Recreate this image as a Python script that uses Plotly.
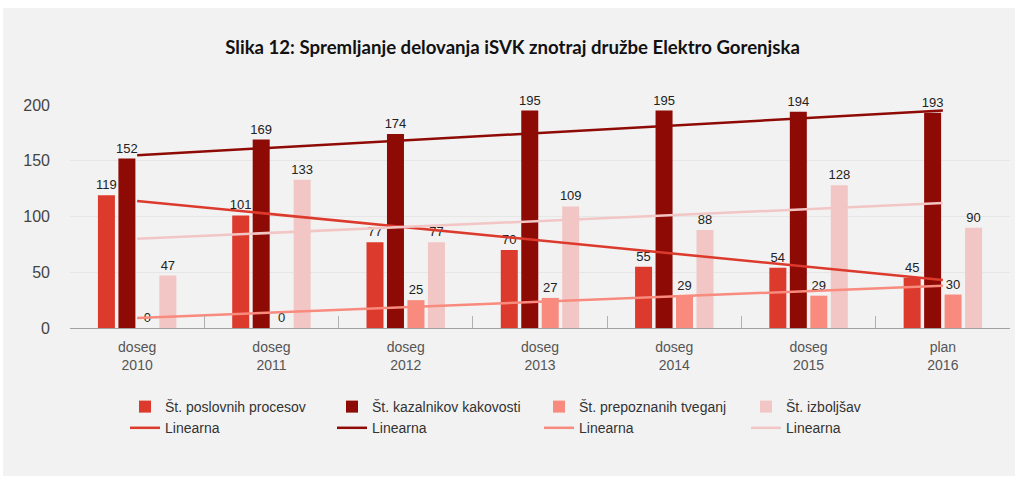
import plotly.graph_objects as go

categories = ["doseg<br>2010", "doseg<br>2011", "doseg<br>2012", "doseg<br>2013",
              "doseg<br>2014", "doseg<br>2015", "plan<br>2016"]
series_names = ["Št. poslovnih procesov", "Št. kazalnikov kakovosti",
                "Št. prepoznanih tveganj", "Št. izboljšav"]
poslovni_procesi = [119, 101, 77, 70, 55, 54, 45]
kazalniki_kakovosti = [152, 169, 174, 195, 195, 194, 193]
prepoznana_tveganja = [0, 0, 25, 27, 29, 29, 30]
izboljsave = [47, 133, 77, 109, 88, 128, 90]
# linear trend lines (Linearna), start/end values
trend_start = [114, 155, 9, 80]
trend_end = [43, 195, 38, 112]

colors = ["#dc3a2c", "#8e0b05", "#f98a7e", "#f2c6c4"]
values = [poslovni_procesi, kazalniki_kakovosti, prepoznana_tveganja, izboljsave]

W, H = 1019, 481
ml, mr, mt, mb = 70, 9, 105, 153

fig = go.Figure()
for name, vals, c in zip(series_names, values, colors):
    fig.add_trace(go.Bar(
        x=categories, y=vals, name=name, marker_color=c, marker_line_width=0,
        text=[str(v) for v in vals], textposition="outside", cliponaxis=False,
        constraintext="none",
        textfont=dict(family="Liberation Sans, Arial", size=13, color="#222222"),
        hoverinfo="skip",
    ))
for s, e, c in zip(trend_start, trend_end, colors):
    fig.add_trace(go.Scatter(
        x=[categories[0], categories[-1]], y=[s, e], mode="lines", name="Linearna",
        line=dict(color=c, width=2.5), hoverinfo="skip",
    ))

# light grey panel behind the chart
pw = W - ml - mr
ph = H - mt - mb
def px_x(p):
    return (p - ml) / pw
def px_y(p):
    return (H - mb - p) / ph
fig.add_shape(type="rect", xref="paper", yref="paper", layer="below",
              x0=px_x(3), x1=px_x(1015), y0=px_y(476), y1=px_y(8),
              fillcolor="#f2f2f2", line_width=0)

fig.update_layout(
    width=W, height=H,
    margin=dict(l=ml, r=mr, t=mt, b=mb),
    paper_bgcolor="white", plot_bgcolor="rgba(0,0,0,0)",
    barmode="group", bargap=0.39, bargroupgap=0.17,
    font=dict(family="Liberation Sans, Arial", color="#333333"),
    title=dict(text="<b>Slika 12: Spremljanje delovanja iSVK znotraj družbe Elektro Gorenjska</b>",
               x=0.503, xanchor="center", y=1 - 47 / H, yanchor="middle",
               font=dict(family="Lato, Open Sans", size=18.6, color="#111111")),
    xaxis=dict(type="category", showgrid=False, showline=True, linecolor="#a0a0a0",
               linewidth=1, ticks="inside", tickson="boundaries", ticklen=12,
               tickcolor="#b0b0b0", tickfont=dict(size=14, color="#555555"),
               ticklabelstandoff=6),
    yaxis=dict(range=[0, 200], tickvals=[0, 50, 100, 150, 200], showgrid=True,
               gridcolor="#e6e6e6", zeroline=False, showline=False,
               tickfont=dict(size=16, color="#444444"), ticklabelstandoff=19),
    showlegend=True,
    legend=dict(orientation="h", x=px_x(125), xanchor="left", y=px_y(391), yanchor="top",
                entrywidth=162, itemwidth=30, bgcolor="rgba(0,0,0,0)",
                font=dict(family="Liberation Sans, Arial", size=14, color="#333333"),
                traceorder="normal"),
)

fig.write_html("out.html", config={"displayModeBar": False},
               post_script="document.body.style.margin='0';")
